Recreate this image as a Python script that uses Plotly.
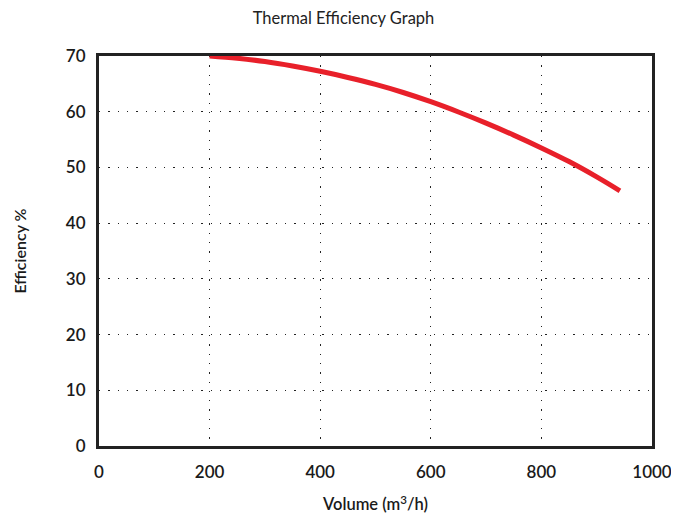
import plotly.graph_objects as go

volume = [200, 250, 300, 350, 400, 450, 500, 550, 600, 650, 700, 750, 800, 850, 900, 942]
efficiency = [70.0, 69.6, 69.0, 68.2, 67.25, 66.15, 64.9, 63.45, 61.8, 59.95, 57.95, 55.8, 53.5, 51.05, 48.3, 45.8]
x_ticks = [0, 200, 400, 600, 800, 1000]
y_ticks = [0, 10, 20, 30, 40, 50, 60, 70]

FONT = "Lato"
fig = go.Figure()
fig.add_trace(go.Scatter(x=volume, y=efficiency, mode="lines",
                         line=dict(color="#e8202a", width=5, shape="spline"),
                         showlegend=False, hoverinfo="x+y"))

axis_common = dict(showline=True, mirror=True, linewidth=3, linecolor="#222222",
                   showgrid=True, gridcolor="#222222", gridwidth=1.3, griddash="1.3px,8px",
                   zeroline=False, ticks="", automargin=False,
                   tickfont=dict(family=FONT, size=17, color="#1a1a1a", weight=600))

fig.update_xaxes(range=[0, 1000], tickvals=x_ticks, ticklabelstandoff=9,
                 title=dict(text="Volume (m<sup>3</sup>/h)", font=dict(family=FONT, size=16.5, color="#1a1a1a", weight=600), standoff=18),
                 **axis_common)
fig.update_yaxes(range=[0, 70], tickvals=y_ticks, ticklabelstandoff=7,
                 title=dict(text="Efficiency %", font=dict(family=FONT, size=16, color="#1a1a1a", weight=600), standoff=36),
                 **axis_common)

fig.update_layout(
    width=671, height=510,
    margin=dict(l=91, r=27, t=48, b=72, autoexpand=False),
    paper_bgcolor="white", plot_bgcolor="white",
    title=dict(text="Thermal Efficiency Graph", x=0.5, xanchor="center",
               yref="container", y=1 - 10 / 510, yanchor="middle",
               font=dict(family=FONT, size=16.5, color="#222222")),
)

fig.write_html("out.html")
